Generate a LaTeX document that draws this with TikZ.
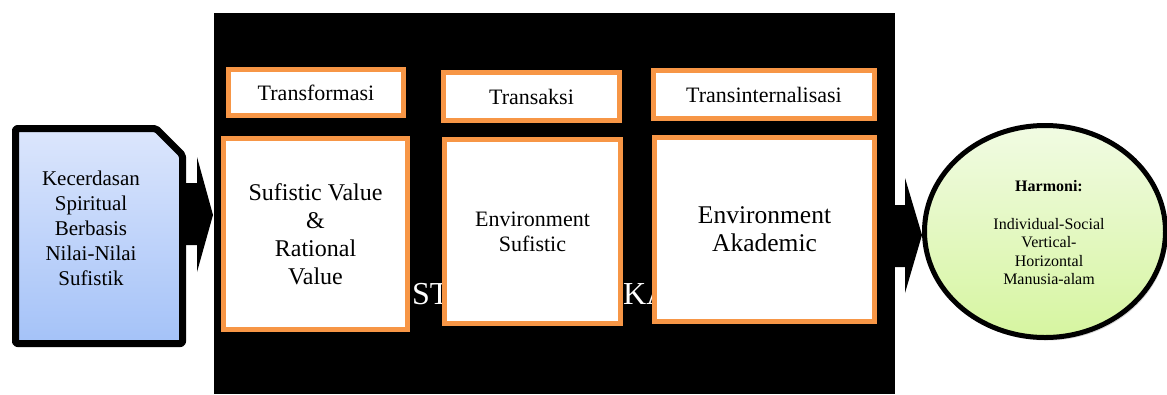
\documentclass[tikz,border=0pt]{standalone}
\usepackage{fontspec}
\setmainfont{Liberation Serif}
\usetikzlibrary{shadows,shapes.geometric}
\definecolor{boxorange}{HTML}{F79646}
\definecolor{docTop}{HTML}{DCE6FC}
\definecolor{docBot}{HTML}{A4C2F8}
\definecolor{ovalTop}{HTML}{F1FBE3}
\definecolor{ovalBot}{HTML}{D6F5A0}
\tikzset{
  stagebox/.style={draw=boxorange, line width=5pt, fill=white, inner sep=0pt,
    align=center, font=\fontsize{22}{26}\selectfont},
  valuebox/.style={draw=boxorange, line width=5pt, fill=white, inner sep=0pt,
    align=center},
  blockarrow/.style={fill=black},
  softshadow/.style={drop shadow={shadow xshift=2pt, shadow yshift=-3pt, opacity=0.35}},
  backtext/.style={text=white, inner sep=0pt, font=\fontsize{32}{36}\selectfont}
}
\begin{document}
\begin{tikzpicture}[x=1pt, y=-1pt]
\useasboundingbox (0,0) rectangle (1167,394);

% black panel
\fill[black] (214,13) rectangle (895,394);

% white caption partly covered by the boxes
\node[backtext, anchor=base west] (capL) at (412,304) {ST};
\node[backtext, anchor=base west] (capR) at (623,304) {KA};

% stage labels
\node[stagebox, minimum width=175pt, minimum height=46pt] (t1) at (316,92.5) {Transformasi};
\node[stagebox, minimum width=176pt, minimum height=48pt] (t2) at (531.5,96.5) {Transaksi};
\node[stagebox, minimum width=221pt, minimum height=48pt] (t3) at (764,94.5) {Transinternalisasi};

% value boxes
\node[valuebox, minimum width=184pt, minimum height=191pt,
      font=\fontsize{24}{28}\selectfont] (b1) at (315.5,234)
      {Sufistic Value\\\&\\Rational\\Value};
\node[valuebox, minimum width=176pt, minimum height=184pt,
      font=\fontsize{22}{25}\selectfont] (b2) at (532.5,231.5)
      {Environment\\Sufistic};
\node[valuebox, minimum width=220pt, minimum height=184pt,
      font=\fontsize{25.5}{28}\selectfont] (b3) at (764.5,229.5)
      {Environment\\Akademic};

% source document shape
\draw[line width=7pt, line join=round, rounded corners=2pt,
      top color=docTop, bottom color=docBot, softshadow]
  (15.5,128.5) -- (156,128.5) -- (182.5,155) -- (182.5,343.5)
  -- (15.5,343.5) -- cycle;
\node[align=center, font=\fontsize{21}{25}\selectfont] (src) at (91,228)
  {Kecerdasan\\Spiritual\\Berbasis\\Nilai-Nilai\\Sufistik};

% block arrows
\fill[blockarrow] (186,183) -- (197,183) -- (197,157) -- (213,215)
  -- (197,272) -- (197,245) -- (186,245) -- cycle;
\fill[blockarrow] (894,205) -- (905,205) -- (905,178) -- (922,235)
  -- (905,293) -- (905,267) -- (894,267) -- cycle;

% result oval
\node[ellipse, draw=black, line width=5pt, minimum width=241pt, minimum height=212pt,
      top color=ovalTop, bottom color=ovalBot, softshadow] (res) at (1045,231.5) {};
\node[align=center, font=\fontsize{16}{18.6}\selectfont] (restext) at (1049,233)
  {\textbf{Harmoni:}\\[18.6pt]Individual-Social\\Vertical-\\Horizontal\\Manusia-alam};
\end{tikzpicture}
\end{document}
